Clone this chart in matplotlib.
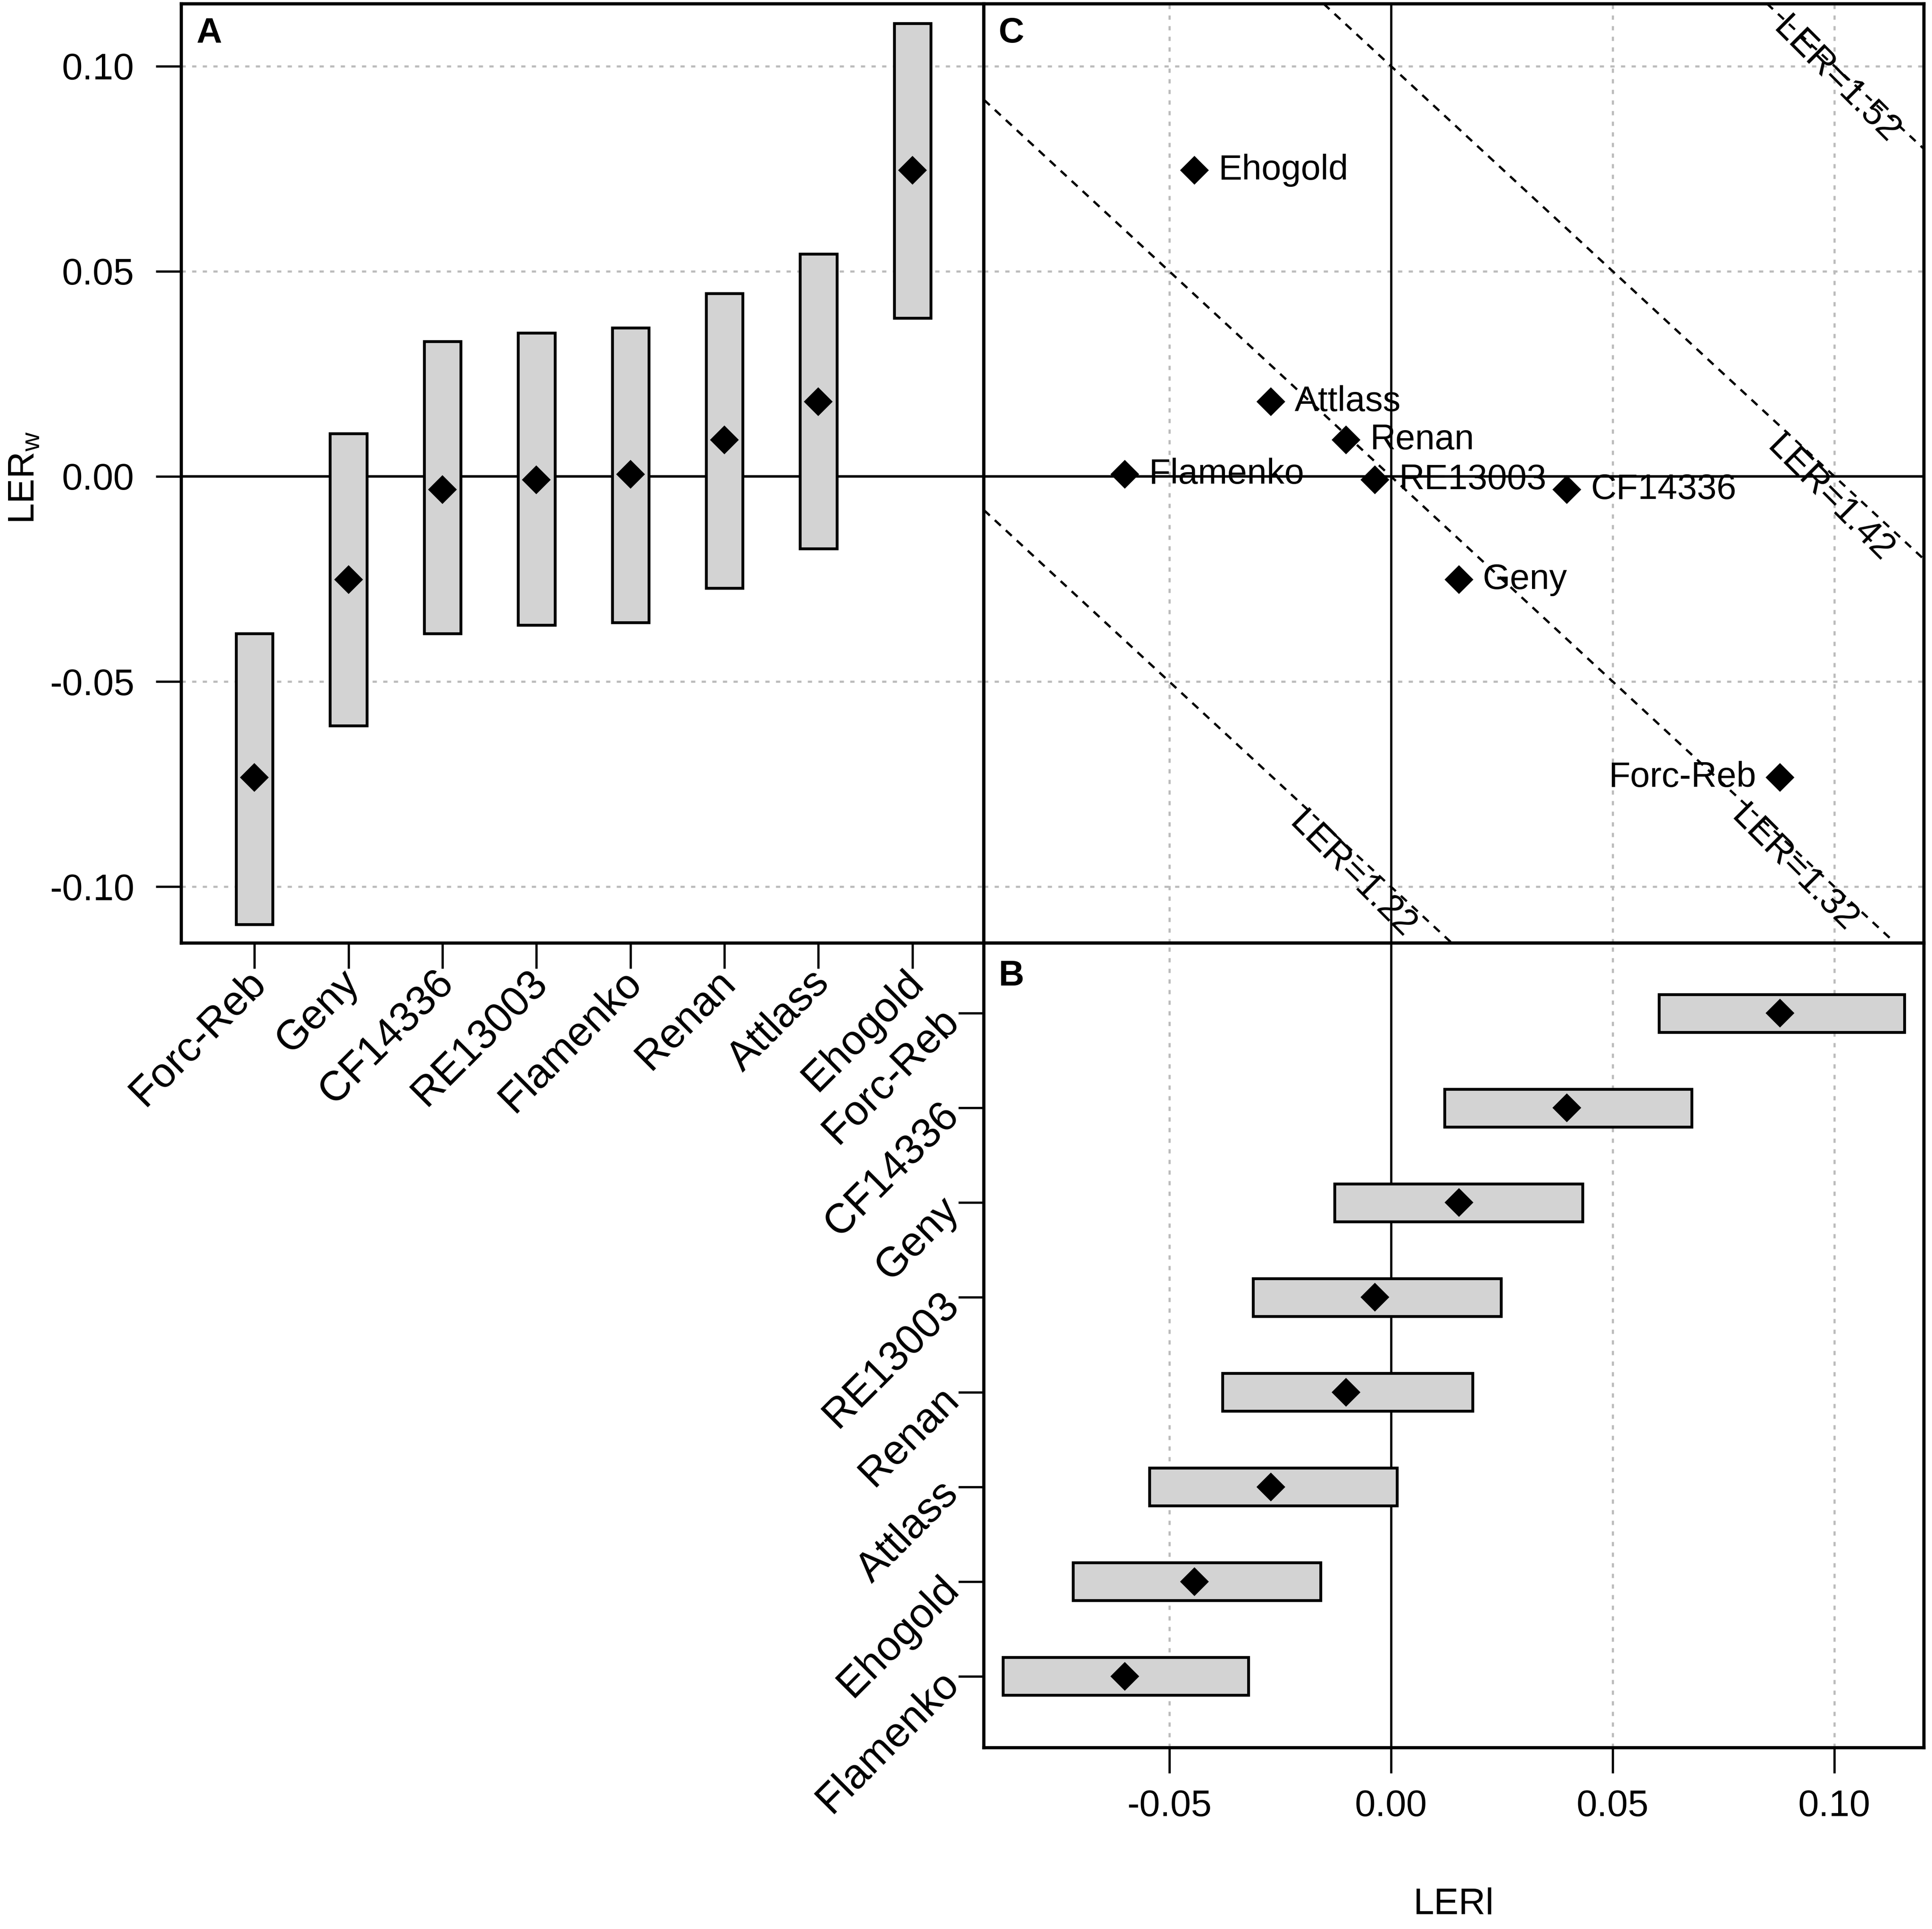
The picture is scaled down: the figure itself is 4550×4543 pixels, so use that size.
import matplotlib
matplotlib.use("Agg")
import matplotlib.pyplot as plt
import matplotlib.transforms as mtransforms
import numpy as np

plt.rcParams['font.family'] = ['Liberation Sans', 'DejaVu Sans']
plt.rcParams['mathtext.fontset'] = 'custom'
plt.rcParams['mathtext.rm'] = 'Liberation Sans'
plt.rcParams['mathtext.default'] = 'regular'

# ---------------- data ----------------
genotypes = ['Forc-Reb', 'Geny', 'CF14336', 'RE13003', 'Flamenko', 'Renan', 'Attlass', 'Ehogold']
lerw_mean = [-0.0734, -0.0251, -0.0032, -0.0008, 0.0005, 0.0089, 0.0182, 0.0746]
lerw_lo   = [-0.1092, -0.0608, -0.0383, -0.0362, -0.0356, -0.0272, -0.0176, 0.0386]
lerw_hi   = [-0.0383, 0.0104, 0.0329, 0.0350, 0.0362, 0.0446, 0.0542, 0.1104]
lerl_mean = [0.0877, 0.0153, 0.0397, -0.0036, -0.0600, -0.0101, -0.0271, -0.0443]
lerl_lo   = [0.0604, -0.0127, 0.0121, -0.0311, -0.0875, -0.0380, -0.0545, -0.0717]
lerl_hi   = [0.1158, 0.0432, 0.0678, 0.0248, -0.0322, 0.0184, 0.0014, -0.0159]

order_A = ['Forc-Reb', 'Geny', 'CF14336', 'RE13003', 'Flamenko', 'Renan', 'Attlass', 'Ehogold']
order_B = ['Flamenko', 'Ehogold', 'Attlass', 'Renan', 'RE13003', 'Geny', 'CF14336', 'Forc-Reb']

ler_ref = 1.32
ler_levels = [1.22, 1.32, 1.42, 1.52]
ler_label_x = [-0.0087, 0.0909, 0.0990, 0.1004]
ler_label_y = [-0.0972, -0.0957, -0.0055, 0.0965]

num_ticks = [-0.10, -0.05, 0.00, 0.05, 0.10]
num_ticklabels = ['-0.10', '-0.05', '0.00', '0.05', '0.10']
grid_vals = [-0.10, -0.05, 0.05, 0.10]
# label placement: +1 right of point, -1 left of point
label_side = {'Forc-Reb': -1}

# ---------------- style ----------------
FS = 21
FS_CAT = 23.5
BOX_FC = '#d3d3d3'
GRID_C = '#bcbcbc'
SPINE_LW = 1.8

W, H = 4550, 4543
DPI = 300
fig = plt.figure(figsize=(W / DPI, H / DPI), dpi=DPI)

DW, DH = 1568.0, 1565.0
def rect(l, t, r, b):
    return [l / DW, 1 - b / DH, (r - l) / DW, (b - t) / DH]

axA = fig.add_axes(rect(147, 3, 798.5, 765))
axC = fig.add_axes(rect(798.5, 3, 1561.5, 765))
axB = fig.add_axes(rect(798.5, 765, 1561.5, 1418))

lerw_ylim = (-0.1137, 0.1152)
lerl_xlim = (-0.0918, 0.1202)

for ax in (axA, axB, axC):
    for s in ax.spines.values():
        s.set_linewidth(SPINE_LW)
        s.set_zorder(10)
    ax.tick_params(length=14.5, width=1.3, labelsize=FS, color='black')

gdict = {g: i for i, g in enumerate(genotypes)}

# ---------------- Panel A ----------------
xa = np.arange(1, len(order_A) + 1)
idxA = [gdict[g] for g in order_A]
loA = np.array([lerw_lo[i] for i in idxA])
hiA = np.array([lerw_hi[i] for i in idxA])
mA = np.array([lerw_mean[i] for i in idxA])
for v in grid_vals:
    axA.axhline(v, color=GRID_C, lw=1.2, ls=(0, (2, 3)), zorder=0)
axA.axhline(0, color='black', lw=1.4, zorder=1)
axA.bar(xa, hiA - loA, bottom=loA, width=0.39, color=BOX_FC, edgecolor='black',
        linewidth=1.6, zorder=2)
axA.plot(xa, mA, linestyle='none', marker='D', markersize=10.5, color='black', zorder=3)
axA.set_xlim(0.22, 8.76)
axA.set_ylim(*lerw_ylim)
axA.set_yticks(num_ticks)
axA.set_yticklabels(num_ticklabels)
axA.tick_params(axis='y', pad=12)
axA.set_xticks(xa)
axA.set_xticklabels(order_A, rotation=45, ha='right', va='top', rotation_mode='anchor',
                    fontsize=FS_CAT)
axA.tick_params(axis='x', pad=4.0)
axA.set_ylabel('LER$_w$', fontsize=FS, va='center')
axA.yaxis.set_label_coords(-0.195, 0.495)
axA.text(0.035, 0.9685, 'A', transform=axA.transAxes, fontsize=20, fontweight='bold',
         ha='center', va='center')

# ---------------- Panel B ----------------
yb = np.arange(1, len(order_B) + 1)
idxB = [gdict[g] for g in order_B]
loB = np.array([lerl_lo[i] for i in idxB])
hiB = np.array([lerl_hi[i] for i in idxB])
mB = np.array([lerl_mean[i] for i in idxB])
for v in grid_vals:
    axB.axvline(v, color=GRID_C, lw=1.2, ls=(0, (2, 3)), zorder=0)
axB.axvline(0, color='black', lw=1.3, zorder=1)
axB.barh(yb, hiB - loB, left=loB, height=0.40, color=BOX_FC, edgecolor='black',
         linewidth=1.6, zorder=2)
axB.plot(mB, yb, linestyle='none', marker='D', markersize=10.5, color='black', zorder=3)
axB.set_ylim(0.245, 8.742)
axB.set_xlim(*lerl_xlim)
axB.set_xticks([-0.05, 0.00, 0.05, 0.10])
axB.set_xticklabels(['-0.05', '0.00', '0.05', '0.10'])
axB.tick_params(axis='x', pad=9)
axB.set_yticks(yb)
axB.set_yticklabels(order_B, rotation=45, ha='right', va='top', rotation_mode='anchor',
                    fontsize=FS_CAT)
axB.tick_params(axis='y', pad=6)
axB.set_xlabel('LERl', fontsize=FS, va='center')
axB.xaxis.set_label_coords(0.5, -0.1945)
axB.text(0.029, 0.9587, 'B', transform=axB.transAxes, fontsize=20, fontweight='bold',
         ha='center', va='center')

# small nudge of the rotated category labels (up-left), as in the reference
nudge = mtransforms.ScaledTranslation(-0.07, 0.097, fig.dpi_scale_trans)
for lab in axA.get_xticklabels() + axB.get_yticklabels():
    lab.set_transform(lab.get_transform() + nudge)

# ---------------- Panel C ----------------
for v in grid_vals:
    axC.axhline(v, color=GRID_C, lw=1.2, ls=(0, (2, 3)), zorder=0)
    axC.axvline(v, color=GRID_C, lw=1.2, ls=(0, (2, 3)), zorder=0)
axC.axhline(0, color='black', lw=1.4, zorder=1)
axC.axvline(0, color='black', lw=1.3, zorder=1)
for lev in ler_levels:
    axC.axline((0, lev - ler_ref), slope=-1, color='black', lw=1.3,
               ls=(0, (3.5, 3)), zorder=2)
for lev, lx, ly in zip(ler_levels, ler_label_x, ler_label_y):
    axC.text(lx, ly, 'LER=%.2f' % lev, rotation=-45, rotation_mode='anchor',
             ha='center', va='center', fontsize=20.5, zorder=4)
axC.plot(lerl_mean, lerw_mean, linestyle='none', marker='D', markersize=10.5,
         color='black', zorder=5)
for g, xv, yv in zip(genotypes, lerl_mean, lerw_mean):
    side = label_side.get(g, 1)
    axC.annotate(g, (xv, yv), xytext=(13.5 * side, 0), textcoords='offset points',
                 ha='left' if side > 0 else 'right', va='center', fontsize=20, zorder=6)
axC.set_xlim(*lerl_xlim)
axC.set_ylim(*lerw_ylim)
axC.set_xticks([])
axC.set_yticks([])
axC.text(0.029, 0.9685, 'C', transform=axC.transAxes, fontsize=20, fontweight='bold',
         ha='center', va='center')

fig.savefig('out.png', dpi=DPI, facecolor='white')
